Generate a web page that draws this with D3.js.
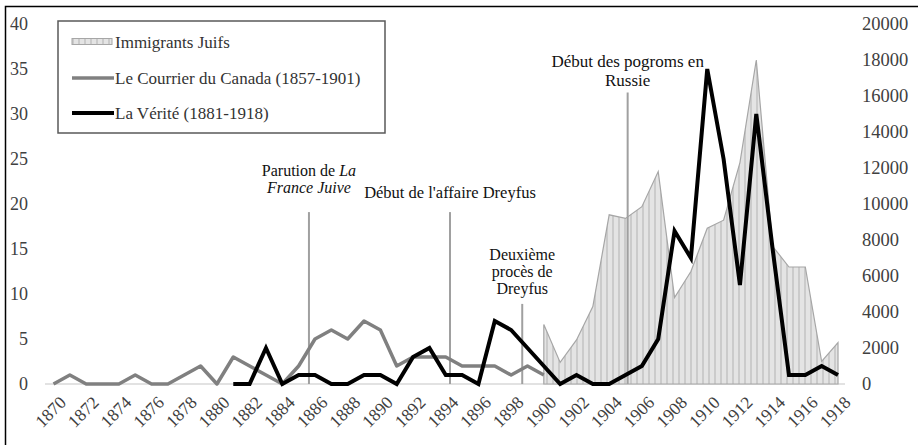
<!DOCTYPE html>
<html><head><meta charset="utf-8">
<script src="https://cdn.jsdelivr.net/npm/d3@7"></script>
<style>body{margin:0;background:#fff}svg{display:block}</style>
</head><body>
<svg id="c" width="918" height="445"></svg>
<script>
// ---- data ----
const courrierYears = d3.range(1870, 1901);
const courrierValues = [0,1,0,0,0,1,0,0,1,2,0,3,2,1,0,2,5,6,5,7,6,2,3,3,3,2,2,2,1,2,1];
const veriteYears = d3.range(1881, 1919);
const veriteValues = [0,0,4,0,1,1,0,0,1,1,0,3,4,1,1,0,7,6,4,2,0,1,0,0,1,2,5,17,14,35,25,11,30,15,1,1,2,1];
const immYears = d3.range(1900, 1919);
const immValues = [3300,1200,2450,4300,9400,9200,9850,11800,4800,6250,8650,9100,12300,18000,7650,6500,6500,1250,2300];
const xTicks = d3.range(1870, 1919, 2);
const leftTicks = [0,5,10,15,20,25,30,35,40];
const rightTicks = [0,2000,4000,6000,8000,10000,12000,14000,16000,18000,20000];
const events = [
  {year:1885.63, top:19.1, lines:[[["Parution de ",false],["La",true]],[["France Juive",true]]]},
  {year:1894.26, top:19.1, lines:[[["Début de l'affaire Dreyfus",false]]]},
  {year:1898.68, top:8.9, lines:[[["Deuxième",false]],[["procès de",false]],[["Dreyfus",false]]]},
  {year:1905.13, top:32.4, lines:[[["Début des pogroms en",false]],[["Russie",false]]]}
];
const legendLabels = ["Immigrants Juifs","Le Courrier du Canada (1857-1901)","La Vérité (1881-1918)"];

// ---- layout ----
const svg = d3.select("#c");
const FONT = "'Liberation Serif','Times New Roman',serif";
const x = d3.scaleLinear().domain([1870,1918]).range([53.5,838]);
const yL = d3.scaleLinear().domain([0,40]).range([384,24]);
const yR = d3.scaleLinear().domain([0,20000]).range([384,24]);

// pattern
const defs = svg.append("defs");
const pat = defs.append("pattern").attr("id","stripes").attr("patternUnits","userSpaceOnUse")
  .attr("width",6).attr("height",10);
pat.append("rect").attr("width",6).attr("height",10).attr("fill","#e4e4e4");
pat.append("rect").attr("x",0).attr("width",2).attr("height",10).attr("fill","#cbcbcb");

// frame
svg.append("rect").attr("x",5.5).attr("y",6.5).attr("width",930).attr("height",460)
  .attr("fill","none").attr("stroke","#000").attr("stroke-width",1.5);

// baseline
svg.append("line").attr("x1",45).attr("x2",845).attr("y1",yL(0)).attr("y2",yL(0))
  .attr("stroke","#d9d9d9").attr("stroke-width",1.5);

// area
const immData = immYears.map((y,i)=>({y, v:immValues[i]}));
svg.append("path").datum(immData)
  .attr("d", d3.area().x(d=>x(d.y)).y0(yR(0)).y1(d=>yR(d.v)))
  .attr("fill","url(#stripes)").attr("stroke","#a6a6a6").attr("stroke-width",1.2);

// event lines
const ev = svg.append("g");
events.forEach(e=>{
  ev.append("line").attr("x1",x(e.year)).attr("x2",x(e.year)).attr("y1",yL(e.top)).attr("y2",yL(0))
    .attr("stroke","#a0a0a0").attr("stroke-width",2);
});

// lines
const courrierData = courrierYears.map((y,i)=>({y, v:courrierValues[i]}));
const veriteData = veriteYears.map((y,i)=>({y, v:veriteValues[i]}));
const line = d3.line().x(d=>x(d.y)).y(d=>yL(d.v));
svg.append("path").datum(courrierData).attr("d",line).attr("fill","none")
  .attr("stroke","#808080").attr("stroke-width",3.5).attr("stroke-linejoin","round");
svg.append("path").datum(veriteData).attr("d",line).attr("fill","none")
  .attr("stroke","#000").attr("stroke-width",4).attr("stroke-linejoin","miter");

// event texts
const evText = [
  {y0:176, lh:17, fs:16},
  {y0:198, lh:17, fs:16.5},
  {y0:260, lh:17, fs:16},
  {y0:67, lh:19, fs:17}
];
events.forEach((e,i)=>{
  const cfg = evText[i];
  e.lines.forEach((ln,j)=>{
    const t = svg.append("text").attr("x",x(e.year)).attr("y",cfg.y0+j*cfg.lh)
      .attr("text-anchor","middle").attr("font-family",FONT).attr("font-size",cfg.fs).attr("fill","#111");
    ln.forEach(([s,it])=>{ t.append("tspan").text(s).attr("font-style",it?"italic":"normal"); });
  });
});

// axes
const gl = svg.append("g");
leftTicks.forEach(v=>{
  gl.append("text").attr("x",28).attr("y",yL(v)+6).attr("text-anchor","end")
    .attr("font-family",FONT).attr("font-size",18).attr("fill","#404040").text(v);
});
const gr = svg.append("g");
rightTicks.forEach(v=>{
  gr.append("text").attr("x",862).attr("y",yR(v)+6).attr("text-anchor","start")
    .attr("font-family",FONT).attr("font-size",18.5).attr("fill","#404040").text(v);
});
const gx = svg.append("g");
xTicks.forEach(v=>{
  const px = x(v)+5, py = 395;
  gx.append("text").attr("transform",`translate(${px},${py}) rotate(-45)`)
    .attr("text-anchor","end").attr("dy","0.7em")
    .attr("font-family",FONT).attr("font-size",17.5).attr("fill","#404040").text(v);
});

// legend
const lg = svg.append("g");
lg.append("rect").attr("x",58).attr("y",21).attr("width",327).attr("height",112)
  .attr("fill","#fff").attr("stroke","#595959").attr("stroke-width",1.5);
lg.append("rect").attr("x",72).attr("y",38.5).attr("width",40).attr("height",6)
  .attr("fill","url(#stripes)").attr("stroke","#a6a6a6").attr("stroke-width",1);
lg.append("line").attr("x1",72).attr("x2",114).attr("y1",78).attr("y2",78).attr("stroke","#808080").attr("stroke-width",3.5);
lg.append("line").attr("x1",72).attr("x2",114).attr("y1",113).attr("y2",113).attr("stroke","#000").attr("stroke-width",4);
[41.7,78,113].forEach((yy,i)=>{
  lg.append("text").attr("x",115).attr("y",yy+6).attr("font-family",FONT).attr("font-size",17)
    .attr("fill","#333").text(legendLabels[i]);
});
</script>
</body></html>
